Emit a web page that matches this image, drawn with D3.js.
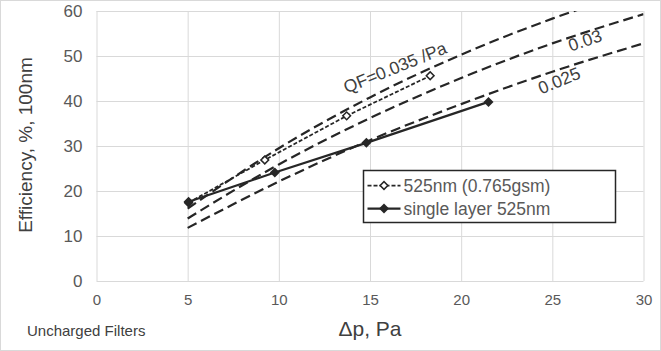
<!DOCTYPE html>
<html>
<head>
<meta charset="utf-8">
<script src="https://cdn.jsdelivr.net/npm/d3@7"></script>
<style>
  body { margin: 0; background: #fff; }
  text { font-family: "Liberation Sans", Arial, sans-serif; }
</style>
</head>
<body>
<div id="chart"></div>
<script>
// Measured series (Δp in Pa, efficiency in %)
const dp525 = [5.05, 9.23, 13.72, 18.3];
const eff525 = [17.4, 26.9, 36.7, 45.6];
const dpSingle = [5.05, 9.78, 14.8, 21.5];
const effSingle = [17.6, 24.1, 30.7, 39.8];

// QF reference curves at each 5 Pa
const qfDp = [5, 10, 15, 20, 25, 30];
const qf035 = [16.1, 29.5, 40.8, 50.3, 58.3, 65.0];
const qf030 = [13.9, 25.9, 36.2, 45.1, 52.8, 59.3];
const qf025 = [11.8, 22.1, 31.3, 39.3, 46.5, 52.8];

const xTicks = [0, 5, 10, 15, 20, 25, 30];
const yTicks = [0, 10, 20, 30, 40, 50, 60];
const legendLabels = ['525nm (0.765gsm)', 'single layer 525nm'];

// Set up chart dimensions
const W = 661, H = 351;
const margin = { top: 11, right: 17.5, bottom: 70, left: 96.5 };
const width = W - margin.left - margin.right;
const height = H - margin.top - margin.bottom;

const root = d3.select('#chart')
    .append('svg')
    .attr('width', W)
    .attr('height', H);

// outer frame
root.append('rect')
    .attr('x', 0.5).attr('y', 0.5)
    .attr('width', W - 1).attr('height', H - 1)
    .attr('fill', '#fff')
    .attr('stroke', '#d9d9d9');

const svg = root.append('g')
    .attr('transform', `translate(${margin.left},${margin.top})`);

const x = d3.scaleLinear().domain([0, 30]).range([0, width]);
const y = d3.scaleLinear().domain([0, 60]).range([height, 0]);

// gridlines
svg.append('g')
    .call(d3.axisBottom(x).tickValues(xTicks).tickSize(-height).tickFormat(''))
    .attr('transform', `translate(0,${height})`)
    .call(g => g.select('.domain').remove())
    .selectAll('line').attr('stroke', '#d9d9d9');
svg.append('g')
    .call(d3.axisLeft(y).tickValues(yTicks).tickSize(-width).tickFormat(''))
    .call(g => g.select('.domain').remove())
    .selectAll('line').attr('stroke', '#d9d9d9');

// tick labels
const xAxis = svg.append('g')
    .attr('transform', `translate(0,${height})`)
    .call(d3.axisBottom(x).tickValues(xTicks).tickSize(0).tickPadding(13));
xAxis.select('.domain').remove();
xAxis.selectAll('text')
    .attr('fill', '#595959')
    .style('font-size', '15px')
    .style('font-family', '"Liberation Sans", Arial, sans-serif');

const yAxis = svg.append('g')
    .call(d3.axisLeft(y).tickValues(yTicks).tickSize(0).tickPadding(14));
yAxis.select('.domain').remove();
yAxis.selectAll('text')
    .attr('fill', '#595959')
    .style('font-size', '17px')
    .style('font-family', '"Liberation Sans", Arial, sans-serif');

// clip for curves
svg.append('clipPath').attr('id', 'clip')
    .append('rect').attr('width', width).attr('height', height);

const line = d3.line()
    .x(d => x(d[0]))
    .y(d => y(d[1]));
const curve = d3.line()
    .curve(d3.curveMonotoneX)
    .x(d => x(d[0]))
    .y(d => y(d[1]));

// QF curves
[qf035, qf030, qf025].forEach(vals => {
    svg.append('path')
        .datum(d3.zip(qfDp, vals))
        .attr('clip-path', 'url(#clip)')
        .attr('d', curve)
        .attr('fill', 'none')
        .attr('stroke', '#262626')
        .attr('stroke-width', 2.2)
        .attr('stroke-dasharray', '10,5');
});

// QF labels
const qfLabels = [
    { t: 'QF=0.035 /Pa', dp: 16.5, e: 46.2, a: -22 },
    { t: '0.03', dp: 26.9, e: 52.2, a: -19 },
    { t: '0.025', dp: 25.5, e: 43.3, a: -22.5 }
];
svg.selectAll('.qf')
    .data(qfLabels)
    .enter()
    .append('text')
    .attr('class', 'qf')
    .attr('transform', d => `translate(${x(d.dp)},${y(d.e)}) rotate(${d.a})`)
    .attr('text-anchor', 'middle')
    .attr('fill', '#404040')
    .style('font-size', '17.5px')
    .text(d => d.t);

// series lines
const d525 = d3.zip(dp525, eff525);
const dSingle = d3.zip(dpSingle, effSingle);

svg.append('path')
    .datum(d525)
    .attr('d', line)
    .attr('fill', 'none')
    .attr('stroke', '#262626')
    .attr('stroke-width', 1.75)
    .attr('stroke-dasharray', '4,2');

svg.append('path')
    .datum(dSingle)
    .attr('d', line)
    .attr('fill', 'none')
    .attr('stroke', '#262626')
    .attr('stroke-width', 2.25);

const openDiamond = d3.symbol(d3.symbolSquare).size(30);
const fullDiamond = d3.symbol(d3.symbolSquare).size(50);

svg.selectAll('.m525')
    .data(d525)
    .enter()
    .append('path')
    .attr('class', 'm525')
    .attr('transform', d => `translate(${x(d[0])},${y(d[1])}) rotate(45)`)
    .attr('d', openDiamond)
    .attr('fill', '#fff')
    .attr('stroke', '#262626')
    .attr('stroke-width', 1.5);

svg.selectAll('.mSingle')
    .data(dSingle)
    .enter()
    .append('path')
    .attr('class', 'mSingle')
    .attr('transform', d => `translate(${x(d[0])},${y(d[1])}) rotate(45)`)
    .attr('d', fullDiamond)
    .attr('fill', '#262626');

// legend
const legend = root.append('g').attr('transform', 'translate(363.5,170.5)');
legend.append('rect')
    .attr('width', 252)
    .attr('height', 52)
    .attr('fill', '#fff')
    .attr('stroke', '#262626')
    .attr('stroke-width', 1.5);

legendLabels.forEach((label, i) => {
    const row = legend.append('g').attr('transform', `translate(0,${15 + i * 23})`);
    row.append('line')
        .attr('x1', 4).attr('x2', 37)
        .attr('stroke', '#262626')
        .attr('stroke-width', i === 0 ? 1.75 : 2.25)
        .attr('stroke-dasharray', i === 0 ? '4,2' : null);
    row.append('path')
        .attr('transform', 'translate(20.5,0) rotate(45)')
        .attr('d', i === 0 ? openDiamond : fullDiamond)
        .attr('fill', i === 0 ? '#fff' : '#262626')
        .attr('stroke', i === 0 ? '#262626' : 'none')
        .attr('stroke-width', 1.5);
    row.append('text')
        .attr('x', 40)
        .attr('dy', '0.36em')
        .attr('fill', '#595959')
        .style('font-size', '17.5px')
        .text(label);
});

// axis titles
root.append('text')
    .attr('x', 370)
    .attr('y', 336)
    .attr('text-anchor', 'middle')
    .attr('fill', '#404040')
    .style('font-size', '21px')
    .text('Δp, Pa');

root.append('text')
    .attr('transform', 'translate(32,145) rotate(-90)')
    .attr('text-anchor', 'middle')
    .attr('fill', '#404040')
    .style('font-size', '19px')
    .text('Efficiency, %, 100nm');

root.append('text')
    .attr('x', 27)
    .attr('y', 336)
    .attr('text-anchor', 'start')
    .attr('fill', '#404040')
    .style('font-size', '15px')
    .text('Uncharged Filters');
</script>
</body>
</html>
